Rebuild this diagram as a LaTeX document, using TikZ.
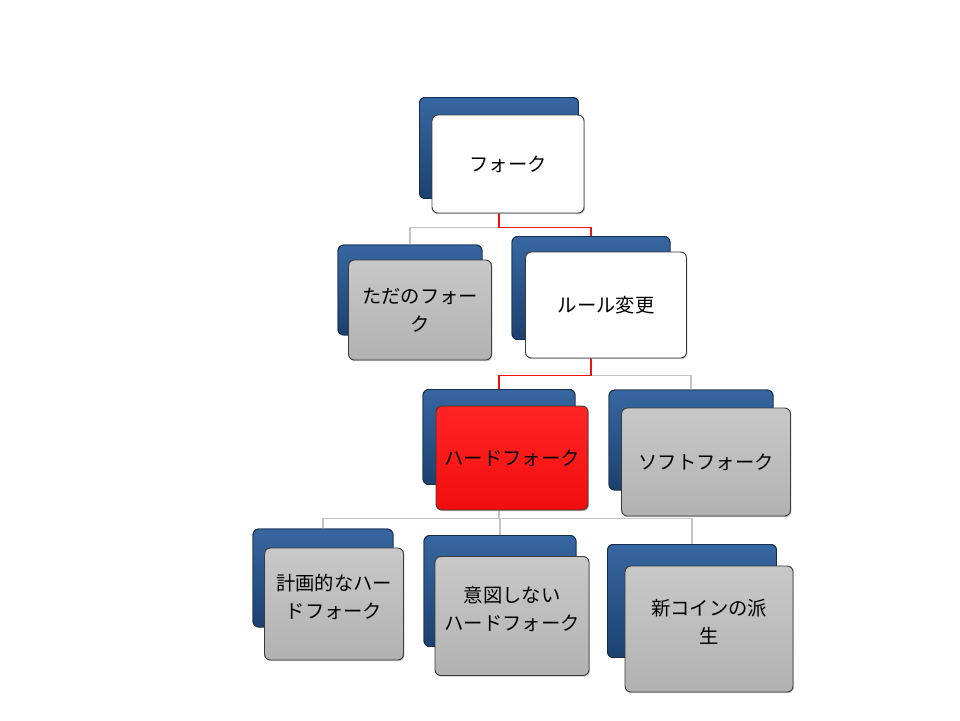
\documentclass[tikz,border=0pt]{standalone}
\usepackage{fontspec}
\setmainfont{Noto Sans CJK JP}
\usetikzlibrary{shadows}
\definecolor{bluetop}{HTML}{3767A1}
\definecolor{bluebot}{HTML}{1C416F}
\definecolor{blueline}{HTML}{132B4C}
\definecolor{frontline}{HTML}{3A3A3A}
\definecolor{grayhi}{HTML}{C8C8C8}
\definecolor{graylo}{HTML}{B2B2B2}
\definecolor{redhi}{HTML}{FF2424}
\definecolor{redlo}{HTML}{F20E0E}
\definecolor{linkgray}{HTML}{C4C4C4}
\definecolor{linkred}{HTML}{F01010}
\tikzset{
  sz/.style 2 args={minimum width=#1*0.3mm, minimum height=#2*0.3mm},
  backbox/.style={rounded corners=5pt, top color=bluetop, bottom color=bluebot, draw=blueline, line width=0.8pt, inner sep=0pt, outer sep=0pt},
  frontbox/.style={rounded corners=5pt, draw=frontline, line width=0.8pt, align=center, inner sep=0pt, outer sep=0pt,
    font=\fontsize{16.5}{23.5}\selectfont, drop shadow={shadow xshift=0.8pt, shadow yshift=-1pt, opacity=0.45}},
  whitebox/.style={frontbox, fill=white},
  graybox/.style={frontbox, top color=grayhi, bottom color=graylo},
  redbox/.style={frontbox, top color=redhi, bottom color=redlo},
  link/.style={draw=linkgray, line width=1.2pt},
  hot/.style={draw=linkred, line width=1.2pt}
}
\begin{document}
\begin{tikzpicture}[x=0.3mm, y=-0.3mm]
    \useasboundingbox[fill=white] (0,0) rectangle (960,720);
    \coordinate (forkB) at (499,148);
    \coordinate (tadaB) at (410,290);
    \coordinate (ruleB) at (591,288);
    \coordinate (hardB) at (499,437);
    \coordinate (softB) at (691,440);
    \coordinate (planB) at (323,578);
    \coordinate (unintB) at (500,591);
    \coordinate (newB) at (692,601);
    \node[backbox, sz={159}{101}] (fork0) at (forkB) {};
    \node[backbox, sz={144}{90}] (tada0) at (tadaB) {};
    \node[backbox, sz={158}{103}] (rule0) at (ruleB) {};
    \node[backbox, sz={152}{95}] (hard0) at (hardB) {};
    \node[backbox, sz={164}{100}] (soft0) at (softB) {};
    \node[backbox, sz={140}{98}] (plan0) at (planB) {};
    \node[backbox, sz={152}{111}] (unint0) at (unintB) {};
    \node[backbox, sz={169}{113}] (new0) at (newB) {};
    \draw[link] (fork0.south) -- ++(0,29) -| (tada0.north);
    \draw[hot] (fork0.south) -- ++(0,29) -| (rule0.north);
    \draw[link] (rule0.south) -- ++(0,36) -| (soft0.north);
    \draw[hot] (rule0.south) -- ++(0,36) -| (hard0.north);
    \draw[link] (hard0.south) -- ++(0,34) -| (plan0.north);
    \draw[link] (hard0.south) -- ++(0,34) -| (unint0.north);
    \draw[link] (hard0.south) -- ++(0,34) -| (new0.north);
    \node[backbox, sz={159}{101}] at (forkB) {};
    \node[whitebox, sz={152}{98}] (fork) at (508,164) {フォーク};
    \node[backbox, sz={144}{90}] at (tadaB) {};
    \node[graybox, sz={143}{100}] (tada) at (420,310) {ただのフォー\\ク};
    \node[backbox, sz={158}{103}] at (ruleB) {};
    \node[whitebox, sz={161}{106}] (rule) at (606,305) {ルール変更};
    \node[backbox, sz={152}{95}] at (hardB) {};
    \node[redbox, sz={152}{104}] (hard) at (512,458) {ハードフォーク};
    \node[backbox, sz={164}{100}] at (softB) {};
    \node[graybox, sz={169}{108}] (soft) at (706,462) {ソフトフォーク};
    \node[backbox, sz={140}{98}] at (planB) {};
    \node[graybox, sz={139}{112}, text depth=1.3em] (plan) at (334,604) {計画的なハー\\ドフォーク};
    \node[backbox, sz={152}{111}] at (unintB) {};
    \node[graybox, sz={154}{119}, text depth=1.3em] (unint) at (512,616) {意図しない\\ハードフォーク};
    \node[backbox, sz={169}{113}] at (newB) {};
    \node[graybox, sz={168}{126}, text depth=1.3em] (new) at (709,629) {新コインの派\\生};
\end{tikzpicture}
\end{document}
